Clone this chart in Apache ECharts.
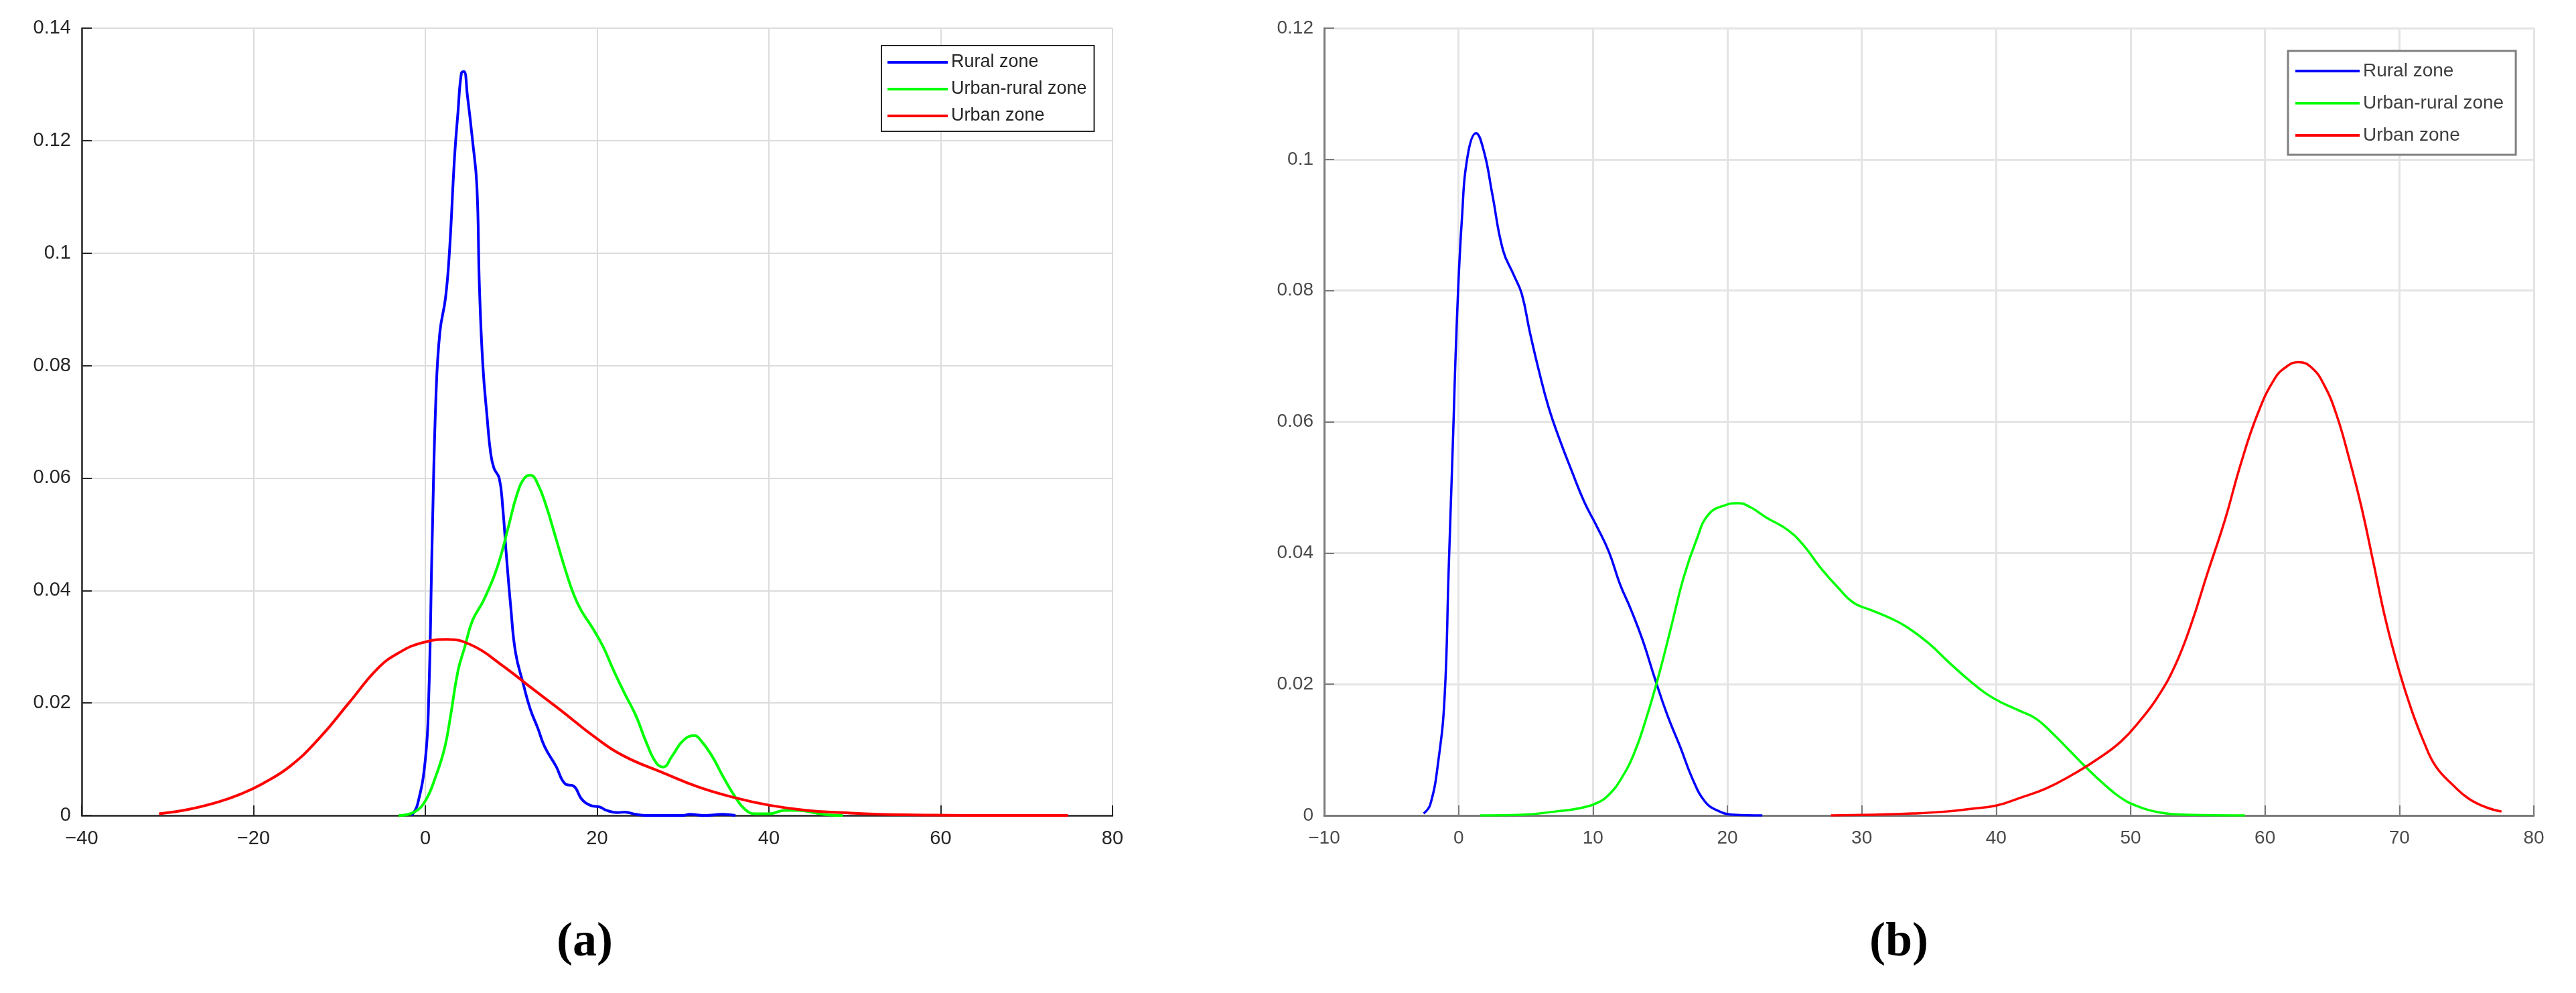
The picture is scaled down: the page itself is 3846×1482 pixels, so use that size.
<!DOCTYPE html>
<html>
<head>
<meta charset="utf-8">
<title>Density curves</title>
<script src="https://cdn.jsdelivr.net/npm/echarts@6/dist/echarts.min.js"></script>
<style>
  html, body { margin: 0; padding: 0; background: #fff; }
  #chart { width: 3846px; height: 1482px; }
</style>
</head>
<body>
<div id="chart"></div>
<script>
// panel (a): x / density pairs
var ruralAX = [-1.6, -0.9, 0, 0.4, 0.8, 1.25, 1.7, 2.35, 2.8, 3.4, 3.8, 4.2, 4.5, 4.9, 5.5, 6.0, 6.3, 6.7, 7.2, 7.6, 8.0, 8.6, 9.0, 9.45, 9.95, 10.5, 11.4, 12.2, 13.1, 13.9, 15.2, 16.3, 17.3, 18.2, 19.2, 20.3, 21.1, 22.4, 23.2, 24.5, 25.8, 30, 30.8, 32.5, 34.6, 36.1];
var ruralAY = [0, 0.002, 0.0099, 0.021, 0.049, 0.075, 0.086, 0.092, 0.1, 0.117, 0.125, 0.132, 0.1323, 0.128, 0.12, 0.112, 0.094, 0.08, 0.0707, 0.0645, 0.0617, 0.06, 0.055, 0.046, 0.037, 0.029, 0.0234, 0.019, 0.0155, 0.0122, 0.0088, 0.0056, 0.0052, 0.0029, 0.0018, 0.0015, 0.0009, 0.0005, 0.0006, 0.0002, 0, 0, 0.0002, 0, 0.0002, 0];

var mixedAX = [-3.1, -1.3, 0, 1.25, 2.25, 2.95, 3.8, 4.6, 5.5, 6.7, 8.0, 8.85, 9.7, 10.7, 11.55, 12.25, 13.1, 14.1, 15.2, 16.3, 17.3, 18.2, 19.4, 20.7, 21.95, 23.2, 24.5, 25.8, 26.9, 27.7, 28.7, 30.0, 31.3, 32.1, 33.4, 34.6, 35.9, 37.2, 38.4, 40.1, 41.8, 43.5, 45.2, 46.9, 48.6];
var mixedAY = [0, 0.0006, 0.0026, 0.0071, 0.012, 0.0178, 0.0257, 0.03, 0.0347, 0.038, 0.0425, 0.0465, 0.0515, 0.0572, 0.06, 0.0605, 0.0589, 0.0549, 0.0493, 0.0437, 0.0392, 0.0363, 0.0335, 0.03, 0.0257, 0.0217, 0.0178, 0.0127, 0.0093, 0.0086, 0.0105, 0.0133, 0.0142, 0.0133, 0.0105, 0.0071, 0.0037, 0.0011, 0.0003, 0.0003, 0.0009, 0.0009, 0.0005, 0.0001, 0];

var urbanAX = [-31.0, -27.5, -24.1, -21.5, -19.0, -15.7, -12.3, -8.9, -5.5, -3.0, -0.4, 2.5, 5.5, 8.85, 12.25, 15.6, 19.85, 23.2, 27.5, 31.7, 35.9, 40.1, 44.4, 48.6, 52.8, 57, 65, 74.8];
var urbanAY = [0.0003, 0.0011, 0.0024, 0.0038, 0.0056, 0.0088, 0.0138, 0.02, 0.0262, 0.029, 0.0307, 0.0313, 0.0302, 0.0268, 0.0228, 0.0189, 0.0138, 0.0105, 0.0077, 0.0051, 0.0032, 0.0018, 0.0009, 0.0005, 0.0002, 0.0001, 0, 0];

// panel (b)
var ruralBX = [-2.6, -2.1, -1.5, -1.04, -0.74, -0.43, -0.12, 0.25, 0.68, 1.3, 1.9, 2.5, 3.3, 4.1, 4.7, 5.3, 5.95, 6.7, 7.5, 8.4, 9.35, 10.3, 11.2, 12.0, 12.8, 13.7, 14.6, 15.55, 16.5, 17.4, 18.3, 19.2, 20.5, 22.6];
var ruralBY = [0.0003, 0.0017, 0.0084, 0.018, 0.0372, 0.0564, 0.0757, 0.091, 0.1006, 0.104, 0.1011, 0.0948, 0.0862, 0.0824, 0.0795, 0.0737, 0.068, 0.0622, 0.0574, 0.0526, 0.0478, 0.044, 0.0401, 0.0353, 0.0315, 0.0267, 0.0209, 0.0152, 0.0104, 0.0056, 0.0022, 0.0008, 0.0001, 0];

var mixedBX = [1.6, 4.7, 7.2, 9.0, 10.3, 11.2, 12.1, 13.05, 13.95, 14.9, 15.8, 16.75, 17.7, 18.6, 19.85, 20.8, 21.7, 22.9, 24.5, 25.7, 26.95, 28.2, 29.4, 30.7, 32.2, 33.45, 35, 36.5, 38.1, 39.3, 40.5, 41.8, 43.0, 44.3, 45.5, 46.7, 48, 49.2, 50.4, 52.3, 54.2, 58.5];
var mixedBY = [0, 0.0001, 0.0006, 0.0011, 0.0019, 0.0032, 0.0056, 0.0094, 0.0147, 0.0214, 0.0286, 0.0363, 0.042, 0.0459, 0.0473, 0.0476, 0.047, 0.0454, 0.0435, 0.0411, 0.0377, 0.0348, 0.0324, 0.0313, 0.03, 0.0286, 0.0262, 0.0233, 0.0204, 0.0185, 0.0171, 0.0159, 0.0147, 0.0123, 0.0098, 0.0073, 0.0048, 0.0028, 0.0015, 0.0004, 0.0001, 0];

var urbanBX = [27.7, 30.7, 33.8, 36.3, 38.1, 40.0, 41.8, 43.7, 45.5, 47.4, 49.3, 50.8, 52.0, 53.3, 54.5, 55.7, 57.0, 58.2, 59.45, 60.7, 61.6, 62.5, 63.5, 64.4, 65.3, 66.25, 67.2, 68.1, 69.0, 70.0, 70.9, 71.8, 72.7, 74.0, 75.2, 76.5, 77.6];
var urbanBY = [0, 0.0001, 0.0003, 0.0006, 0.001, 0.0015, 0.0027, 0.0041, 0.006, 0.0084, 0.0113, 0.0147, 0.018, 0.0228, 0.0291, 0.0368, 0.0449, 0.0536, 0.0612, 0.0665, 0.0684, 0.0691, 0.0682, 0.0656, 0.0612, 0.0545, 0.0468, 0.0382, 0.0296, 0.0219, 0.0161, 0.0113, 0.0075, 0.0046, 0.0025, 0.0012, 0.0006];

var zoneNames = ['Rural zone', 'Urban-rural zone', 'Urban zone'];
var zoneColors = ['#0000ff', '#00ff00', '#ff0000'];

function pairs(xs, ys) {
  return xs.map(function (x, i) { return [x, ys[i]]; });
}
function minusSign(v) {
  return String(v).replace('-', '\u2212');
}

var myChart = echarts.init(document.getElementById('chart'));

function xAxisFor(idx, min, max, line, label, size) {
  return {
    gridIndex: idx, type: 'value', min: min, max: max, interval: 10 * (idx === 0 ? 2 : 1),
    axisLine: { onZero: false, lineStyle: { color: line, width: idx === 0 ? 2.5 : 3 } },
    axisTick: { inside: true, length: 15, lineStyle: { color: line, width: 2 } },
    axisLabel: { color: label, fontSize: size, fontFamily: 'Liberation Sans', margin: 20, formatter: minusSign },
    splitLine: { show: true, lineStyle: { color: idx === 0 ? '#dcdcdc' : '#e4e4e4', width: idx === 0 ? 2 : 3 } }
  };
}
function yAxisFor(idx, max, line, label, size) {
  return {
    gridIndex: idx, type: 'value', min: 0, max: max, interval: 0.02,
    axisLine: { show: true, onZero: false, lineStyle: { color: line, width: idx === 0 ? 2.5 : 3 } },
    axisTick: { show: true, inside: true, length: 15, lineStyle: { color: line, width: 2 } },
    axisLabel: { color: label, fontSize: size, fontFamily: 'Liberation Sans', margin: 16 },
    splitLine: { show: true, lineStyle: { color: idx === 0 ? '#dcdcdc' : '#e4e4e4', width: idx === 0 ? 2 : 3 } }
  };
}
function lineSeries(name, color, idx, data, w) {
  return {
    name: name, type: 'line', xAxisIndex: idx, yAxisIndex: idx,
    data: data, showSymbol: false, smooth: 0.45,
    lineStyle: { color: color, width: w }, itemStyle: { color: color }
  };
}

var option = {
  backgroundColor: '#ffffff',
  animation: false,
  title: [
    {
      text: '{p|(}{b|a}{p|)}', left: 868, top: 1366, textAlign: 'center',
      textStyle: { rich: {
        p: { fontFamily: 'Liberation Serif', fontSize: 72, color: '#000' },
        b: { fontFamily: 'Liberation Serif', fontSize: 72, fontWeight: 'bold', color: '#000' }
      } }
    },
    {
      text: '{p|(}{b|b}{p|)}', left: 2830, top: 1366, textAlign: 'center',
      textStyle: { rich: {
        p: { fontFamily: 'Liberation Serif', fontSize: 72, color: '#000' },
        b: { fontFamily: 'Liberation Serif', fontSize: 72, fontWeight: 'bold', color: '#000' }
      } }
    }
  ],
  legend: [
    {
      data: zoneNames, orient: 'vertical', left: 1316, top: 68,
      icon: 'rect', itemWidth: 90, itemHeight: 4, itemGap: 10,
      padding: [10, 11, 8, 9],
      borderColor: '#262626', borderWidth: 2, backgroundColor: '#fff',
      textStyle: { fontSize: 27, fontFamily: 'Liberation Sans', color: '#262626', lineHeight: 30 }
    },
    {
      data: zoneNames, orient: 'vertical', left: 3416, top: 76,
      icon: 'rect', itemWidth: 96, itemHeight: 4, itemGap: 14,
      padding: [13, 18, 12, 11],
      borderColor: '#808080', borderWidth: 3, backgroundColor: '#fff',
      textStyle: { fontSize: 28, fontFamily: 'Liberation Sans', color: '#404040', lineHeight: 34 }
    }
  ],
  grid: [
    { left: 122, top: 42, width: 1539, height: 1175 },
    { left: 1977, top: 42, width: 1806, height: 1175 }
  ],
  xAxis: [
    xAxisFor(0, -40, 80, '#262626', '#262626', 29),
    xAxisFor(1, -10, 80, '#7a7a7a', '#4a4a4a', 28)
  ],
  yAxis: [
    yAxisFor(0, 0.14, '#262626', '#262626', 29),
    yAxisFor(1, 0.12, '#7a7a7a', '#4a4a4a', 28)
  ],
  series: [
    lineSeries(zoneNames[0], zoneColors[0], 0, pairs(ruralAX, ruralAY), 4),
    lineSeries(zoneNames[1], zoneColors[1], 0, pairs(mixedAX, mixedAY), 4),
    lineSeries(zoneNames[2], zoneColors[2], 0, pairs(urbanAX, urbanAY), 4),
    lineSeries(zoneNames[0], zoneColors[0], 1, pairs(ruralBX, ruralBY), 3.5),
    lineSeries(zoneNames[1], zoneColors[1], 1, pairs(mixedBX, mixedBY), 3.5),
    lineSeries(zoneNames[2], zoneColors[2], 1, pairs(urbanBX, urbanBY), 3.5)
  ]
};

myChart.setOption(option);
</script>
</body>
</html>
